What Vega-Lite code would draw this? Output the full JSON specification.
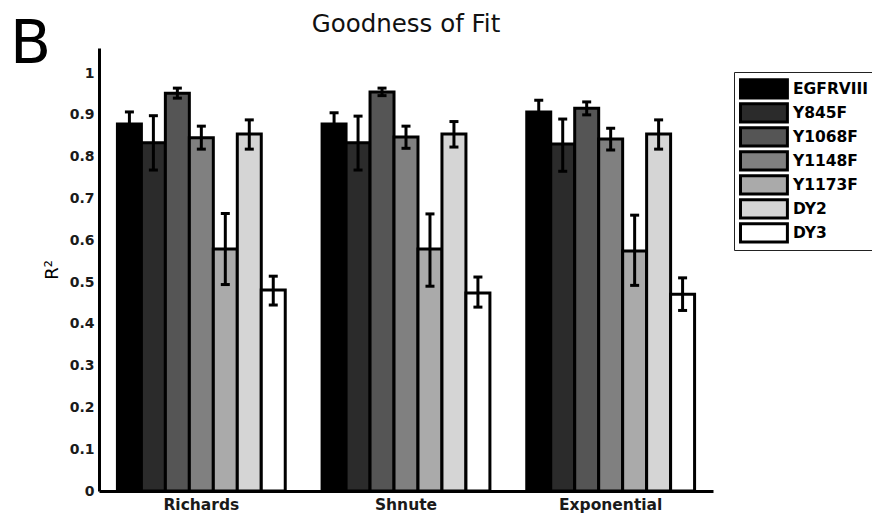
{
  "$schema": "https://vega.github.io/schema/vega-lite/v6.json",
  "padding": {"left": 10, "top": 11, "right": 0, "bottom": 0},
  "background": "white",
  "title": {"text": "B", "orient": "left", "angle": 0, "anchor": "end", "frame": "group", "align": "left", "font": "DejaVu Sans", "fontSize": 60, "fontWeight": "normal", "color": "black", "baseline": "alphabetic", "offset": -8, "dy": 15},
  "config": {
    "view": {"stroke": null},
    "axis": {"domainColor": "black", "domainWidth": 3, "ticks": false, "grid": false, "labelFont": "DejaVu Sans", "labelFontWeight": "bold", "labelColor": "#1a1a1a", "titleFont": "DejaVu Sans"}
  },
  "vconcat": [
    {
      "width": 614,
      "height": 443,
      "title": {"text": "Goodness of Fit", "font": "DejaVu Sans", "fontSize": 24.5, "fontWeight": "normal", "color": "#111", "anchor": "middle", "offset": 11},
      "data": {"values": [
        {"model": "Richards", "line": "EGFRVIII", "value": 0.878, "lo": 0.849, "hi": 0.907},
        {"model": "Richards", "line": "Y845F", "value": 0.833, "lo": 0.768, "hi": 0.898},
        {"model": "Richards", "line": "Y1068F", "value": 0.952, "lo": 0.940, "hi": 0.964},
        {"model": "Richards", "line": "Y1148F", "value": 0.845, "lo": 0.818, "hi": 0.873},
        {"model": "Richards", "line": "Y1173F", "value": 0.579, "lo": 0.494, "hi": 0.664},
        {"model": "Richards", "line": "DY2", "value": 0.854, "lo": 0.818, "hi": 0.888},
        {"model": "Richards", "line": "DY3", "value": 0.481, "lo": 0.445, "hi": 0.514},
        {"model": "Shnute", "line": "EGFRVIII", "value": 0.878, "lo": 0.851, "hi": 0.905},
        {"model": "Shnute", "line": "Y845F", "value": 0.833, "lo": 0.768, "hi": 0.897},
        {"model": "Shnute", "line": "Y1068F", "value": 0.955, "lo": 0.946, "hi": 0.964},
        {"model": "Shnute", "line": "Y1148F", "value": 0.847, "lo": 0.820, "hi": 0.873},
        {"model": "Shnute", "line": "Y1173F", "value": 0.579, "lo": 0.490, "hi": 0.663},
        {"model": "Shnute", "line": "DY2", "value": 0.854, "lo": 0.823, "hi": 0.884},
        {"model": "Shnute", "line": "DY3", "value": 0.474, "lo": 0.440, "hi": 0.512},
        {"model": "Exponential", "line": "EGFRVIII", "value": 0.907, "lo": 0.879, "hi": 0.935},
        {"model": "Exponential", "line": "Y845F", "value": 0.830, "lo": 0.765, "hi": 0.890},
        {"model": "Exponential", "line": "Y1068F", "value": 0.916, "lo": 0.900, "hi": 0.931},
        {"model": "Exponential", "line": "Y1148F", "value": 0.842, "lo": 0.816, "hi": 0.868},
        {"model": "Exponential", "line": "Y1173F", "value": 0.574, "lo": 0.492, "hi": 0.660},
        {"model": "Exponential", "line": "DY2", "value": 0.854, "lo": 0.818, "hi": 0.888},
        {"model": "Exponential", "line": "DY3", "value": 0.471, "lo": 0.432, "hi": 0.510}
      ]},
      "encoding": {
        "x": {"field": "model", "type": "nominal", "sort": ["Richards", "Shnute", "Exponential"], "scale": {"paddingInner": 0.18, "paddingOuter": 0.09}, "axis": {"title": null, "labelAngle": 0, "labelFontSize": 15.5, "labelPadding": 6}},
        "xOffset": {"field": "line", "type": "nominal", "sort": ["EGFRVIII", "Y845F", "Y1068F", "Y1148F", "Y1173F", "DY2", "DY3"]}
      },
      "layer": [
        {
          "mark": {"type": "bar", "stroke": "black", "strokeWidth": 3, "opacity": 1},
          "encoding": {
            "y": {"field": "value", "type": "quantitative", "scale": {"domain": [0, 1.06], "nice": false}, "axis": {"values": [0, 0.1, 0.2, 0.3, 0.4, 0.5, 0.6, 0.7, 0.8, 0.9, 1], "format": ".1~f", "labelFontSize": 14, "labelPadding": 5, "title": "R²", "titleFontSize": 18, "titleFontWeight": "normal", "titleColor": "black", "titlePadding": 8}},
            "fill": {"field": "line", "type": "nominal", "sort": ["EGFRVIII", "Y845F", "Y1068F", "Y1148F", "Y1173F", "DY2", "DY3"],
              "scale": {"domain": ["EGFRVIII", "Y845F", "Y1068F", "Y1148F", "Y1173F", "DY2", "DY3"], "range": ["#000000", "#2b2b2b", "#555555", "#808080", "#aaaaaa", "#d5d5d5", "#ffffff"]},
              "legend": {"title": null, "orient": "none", "legendX": 635, "legendY": 24, "strokeColor": "#222", "padding": 5, "symbolType": "M-1,-1.3H5.7V1.3H-1Z", "symbolSize": 196, "symbolStrokeColor": "black", "symbolStrokeWidth": 3, "symbolOpacity": 1, "labelOffset": 37, "labelFont": "DejaVu Sans", "labelFontWeight": "bold", "labelFontSize": 15.5, "labelColor": "black", "rowPadding": 0, "clipHeight": 23.7}}
          }
        },
        {
          "mark": {"type": "rule", "color": "black", "strokeWidth": 3},
          "encoding": {"y": {"field": "lo", "type": "quantitative"}, "y2": {"field": "hi"}}
        },
        {
          "mark": {"type": "tick", "color": "black", "thickness": 3, "size": 9, "opacity": 1},
          "encoding": {"y": {"field": "lo", "type": "quantitative"}}
        },
        {
          "mark": {"type": "tick", "color": "black", "thickness": 3, "size": 9, "opacity": 1},
          "encoding": {"y": {"field": "hi", "type": "quantitative"}}
        }
      ]
    }
  ]
}
